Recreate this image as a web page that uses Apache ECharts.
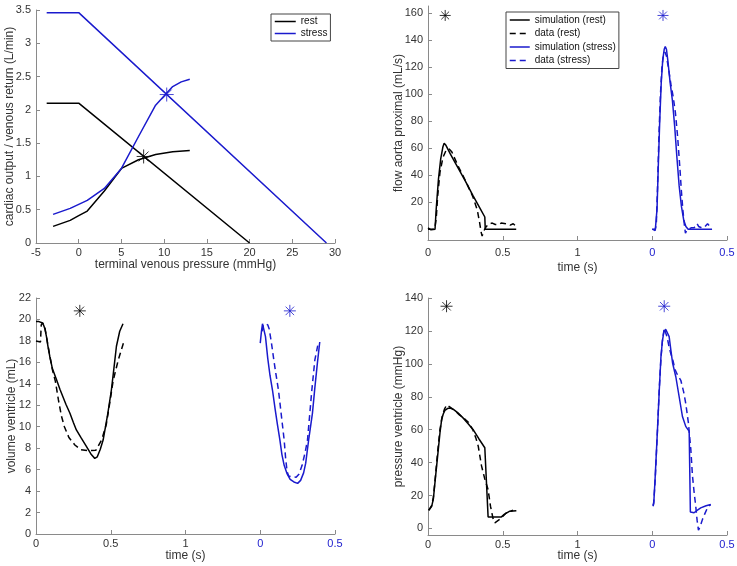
<!DOCTYPE html>
<html><head><meta charset="utf-8">
<script src="https://cdn.jsdelivr.net/npm/echarts@6/dist/echarts.min.js"></script>
<style>html,body{margin:0;padding:0;background:#fff}#c{width:737px;height:566px}</style>
</head><body><div id="c"></div>
<script>
// ---------- Panel 1: cardiac output / venous return ----------
const restVR = [[-3.75,2.1],[0,2.1],[20,0]];
const stressVR = [[-3.75,3.46],[0,3.46],[29,0]];
const restCO = [[-3,0.25],[-1,0.34],[0,0.41],[1,0.48],[3,0.78],[5,1.12],[7,1.25],[9,1.33],[11,1.37],[13,1.39]];
const stressCO = [[-3,0.43],[-1,0.52],[1,0.64],[3,0.82],[5,1.12],[7,1.6],[9,2.07],[11,2.35],[12,2.42],[13,2.46]];
const p1Stars = {rest:[7.6,1.3], stress:[10.3,2.23]};
const p1Ticks = {xmin:-5, xmax:30, xstep:5, ymin:0, ymax:3.5, ystep:0.5};

// ---------- Panel 2: flow aorta proximal ----------
const flowRestSim = [[0,1],[0.01,0.5],[0.02,-0.5],[0.03,0],[0.047,0],[0.055,15],[0.07,37],[0.085,52],[0.1,61],[0.108,63.5],[0.12,62],[0.15,55.5],[0.2,45.5],[0.25,35.5],[0.3,25],[0.35,15],[0.38,9],[0.383,0],[0.59,0]];
const flowRestData = [[0,0],[0.02,0],[0.045,0],[0.055,8],[0.065,25],[0.08,42],[0.1,53],[0.12,58],[0.14,59.5],[0.16,57],[0.18,52],[0.2,47],[0.25,36],[0.3,24],[0.33,14],[0.345,5],[0.355,-2],[0.362,-5],[0.375,-1],[0.39,2],[0.41,4],[0.43,4.5],[0.45,3.5],[0.47,3.5],[0.49,4.5],[0.52,4],[0.55,3],[0.57,4],[0.59,2]];
const flowStressSim = [[0,0],[0.01,-1],[0.02,-1],[0.026,0],[0.032,15],[0.04,45],[0.05,80],[0.06,108],[0.07,125],[0.08,133],[0.087,135],[0.095,133],[0.105,124],[0.12,108],[0.135,95],[0.15,76],[0.165,53],[0.18,32],[0.195,17],[0.21,7],[0.225,2],[0.24,0],[0.4,0]];
const flowStressData = [[0,0],[0.02,0],[0.027,3],[0.035,30],[0.045,70],[0.055,100],[0.065,120],[0.075,129],[0.085,131],[0.095,128],[0.11,118],[0.125,107],[0.14,98],[0.155,86],[0.17,68],[0.185,45],[0.195,28],[0.205,14],[0.215,3],[0.222,-3],[0.23,-1],[0.24,0],[0.26,1],[0.28,1],[0.3,4],[0.31,2],[0.33,1],[0.35,1.5],[0.37,4],[0.39,1.5]];
const p2Stars = {rest:[0.115,158], stress:[0.072,158]};
const p2YTicks = [0,20,40,60,80,100,120,140,160];

// ---------- Panel 3: volume ventricle ----------
const volRestSim = [[0,19.8],[0.02,19.8],[0.04,19.7],[0.05,19.5],[0.06,19.1],[0.07,18.4],[0.08,17.5],[0.093,16.5],[0.11,15.4],[0.138,14.35],[0.16,13.5],[0.18,12.8],[0.2,12.1],[0.227,11.25],[0.25,10.4],[0.27,9.7],[0.3,9.0],[0.338,8.14],[0.37,7.4],[0.393,7.05],[0.41,7.2],[0.43,7.9],[0.449,8.76],[0.48,11.2],[0.504,13.4],[0.52,15.3],[0.538,17.5],[0.56,18.9],[0.582,19.6]];
const volRestData = [[0,18],[0.03,17.9],[0.035,19.5],[0.045,19.7],[0.06,19.2],[0.07,18.4],[0.09,16.8],[0.11,15.3],[0.13,14.2],[0.15,12.5],[0.17,11],[0.19,10],[0.22,9],[0.26,8.3],[0.3,7.85],[0.35,7.76],[0.4,7.8],[0.44,8.8],[0.47,10.2],[0.5,12.8],[0.516,14.3],[0.55,16.2],[0.587,17.9]];
const volStressSim = [[0,17.8],[0.008,18.9],[0.015,19.6],[0.025,19.5],[0.035,18.4],[0.05,16.4],[0.065,14.8],[0.082,13.4],[0.1,11.6],[0.115,10.2],[0.131,8.8],[0.145,7.4],[0.16,6.4],[0.18,5.6],[0.2,5.1],[0.225,4.85],[0.25,4.72],[0.27,5],[0.29,5.7],[0.304,6.6],[0.325,8.9],[0.349,11.25],[0.365,13.6],[0.382,15.9],[0.398,17.9]];
const volStressData = [[0.012,18.9],[0.02,19.4],[0.035,19.6],[0.05,19.5],[0.06,19.1],[0.075,17.8],[0.09,16.3],[0.105,14.9],[0.122,13.4],[0.14,11.2],[0.16,8.76],[0.17,7],[0.18,5.8],[0.19,5.4],[0.21,5.35],[0.24,5.3],[0.26,5.6],[0.28,6.4],[0.3,7.6],[0.316,8.76],[0.33,11],[0.345,13.4],[0.365,16.2],[0.385,17.6]];
const p3Stars = {rest:[0.293,20.8], stress:[0.198,20.8]};

// ---------- Panel 4: pressure ventricle ----------
const presRestSim = [[0.005,11],[0.013,11.5],[0.025,13.5],[0.036,18],[0.05,31],[0.069,48],[0.08,58],[0.091,66],[0.102,69.5],[0.113,71.7],[0.13,72.8],[0.147,73.1],[0.17,72.3],[0.2,70.2],[0.236,67],[0.27,63.5],[0.302,60],[0.34,54.5],[0.38,49],[0.385,48.5],[0.402,7],[0.491,7],[0.51,8.5],[0.547,10.5],[0.591,10.8]];
const presRestData = [[0.005,11],[0.013,12],[0.025,14],[0.036,19],[0.05,32],[0.065,47],[0.08,60],[0.095,68],[0.11,72.5],[0.125,75],[0.136,76],[0.15,73.5],[0.18,71.5],[0.21,69],[0.24,67],[0.27,64.5],[0.3,60],[0.32,55],[0.336,50],[0.358,38],[0.38,30],[0.402,23.6],[0.418,13.5],[0.435,6],[0.447,3.4],[0.46,3.5],[0.48,5.5],[0.524,9.5],[0.569,11]];
const presStressSim = [[0.005,13.5],[0.01,15],[0.02,32],[0.036,62],[0.047,84],[0.058,104],[0.068,114],[0.078,119.5],[0.09,121],[0.1,120],[0.113,116.5],[0.125,108],[0.136,100.5],[0.158,92],[0.18,80],[0.202,68],[0.224,62],[0.247,59],[0.25,58.5],[0.255,10],[0.28,9.5],[0.3,11],[0.324,12.5],[0.36,13.8],[0.391,14.5]];
const presStressData = [[0.005,14],[0.01,16],[0.02,30],[0.035,60],[0.047,85],[0.058,103],[0.068,114],[0.08,121.6],[0.09,120.5],[0.1,116],[0.113,110],[0.125,106],[0.136,103],[0.153,96.4],[0.17,93],[0.191,90],[0.21,83],[0.224,76],[0.242,64],[0.258,48],[0.269,32],[0.28,22],[0.291,13.5],[0.3,5],[0.309,-1],[0.32,1],[0.336,5.5],[0.352,9],[0.369,12.5],[0.391,14.5]];
const p4Stars = {rest:[0.124,135], stress:[0.08,135]};
const p4YTicks = [0,20,40,60,80,100,120,140];

// time axis: rest cycle from 0, stress cycle drawn after an offset of 1.5
const STRESS_OFFSET = 1.5;
const timeTicks = [0,0.5,1,1.5,2];
const timeTickLabels = ['0','0.5','1','0','0.5'];

// ---------- styling ----------
const FONT = '"Liberation Sans", Arial, Helvetica, sans-serif';
const BLACK = '#000000';
const BLUE = '#1a1acd';
const AXIS = '#8a8a8a';
const TXT = '#333333';

const shift = (arr, d) => arr.map(p => [p[0] + d, p[1]]);

function axisBase(extra) {
  const a = {
    type: 'value',
    axisLine: {show: true, onZero: false, lineStyle: {color: AXIS, width: 1}},
    axisTick: {show: true, inside: true, length: 4, lineStyle: {color: AXIS}},
    splitLine: {show: false},
    axisLabel: {fontSize: 11, color: TXT, fontFamily: FONT, margin: 5},
    nameLocation: 'middle',
    nameMoveOverlap: false,
    nameTextStyle: {fontSize: 12, color: TXT, fontFamily: FONT},
  };
  for (const k in extra) {
    if (typeof extra[k] === 'object' && !Array.isArray(extra[k]) && a[k]) Object.assign(a[k], extra[k]);
    else a[k] = extra[k];
  }
  return a;
}

function timeAxis(gridIndex, margin, gap) {
  return axisBase({
    gridIndex, min: 0, max: 2, name: 'time (s)', nameGap: gap,
    axisTick: {customValues: timeTicks},
    axisLabel: {
      margin,
      customValues: timeTicks,
      formatter: v => timeTickLabels[timeTicks.indexOf(Number(v))] ?? String(v),
      color: v => Number(v) >= STRESS_OFFSET ? BLUE : TXT
    }
  });
}

function line(name, data, color, dashed, xi) {
  return {
    type: 'line', name, data, xAxisIndex: xi, yAxisIndex: xi,
    symbol: 'none', showSymbol: false, smooth: false, silent: true,
    lineStyle: {color, width: 1.5, type: dashed ? [6, 4] : 'solid'},
    itemStyle: {color},
    emphasis: {disabled: true}, z: 3
  };
}

const ASTER = 'path://M0,-10L0,10M-10,0L10,0M-7.07,-7.07L7.07,7.07M-7.07,7.07L7.07,-7.07';
function star(name, pt, color, xi, size) {
  return {
    type: 'scatter', name, data: [pt], xAxisIndex: xi, yAxisIndex: xi,
    symbol: ASTER, symbolSize: size, silent: true,
    itemStyle: {color: 'rgba(0,0,0,0)', borderColor: color, borderWidth: 1},
    emphasis: {disabled: true}, z: 5
  };
}

const legendCommon = {
  orient: 'vertical', padding: [2, 3],
  borderColor: '#444', borderWidth: 1, backgroundColor: '#fff', selectedMode: false,
  itemStyle: {opacity: 0, borderWidth: 0},
  lineStyle: {width: 1.5}
};

const option = {
  animation: false,
  backgroundColor: '#ffffff',
  textStyle: {fontFamily: FONT},
  grid: [
    {left: 36, right: 402, top: 10, bottom: 323, containLabel: false, outerBoundsMode: 'none'},
    {left: 428, right: 10, top: 6, bottom: 326, containLabel: false, outerBoundsMode: 'none'},
    {left: 36, right: 402, top: 298, bottom: 32, containLabel: false, outerBoundsMode: 'none'},
    {left: 428, right: 10, top: 298, bottom: 31, containLabel: false, outerBoundsMode: 'none'}
  ],
  xAxis: [
    axisBase({gridIndex: 0, min: p1Ticks.xmin, max: p1Ticks.xmax, interval: p1Ticks.xstep,
      name: 'terminal venous pressure (mmHg)', nameGap: 16, axisLabel: {margin: 4}}),
    timeAxis(1, 7, 22),
    timeAxis(2, 4, 16),
    timeAxis(3, 4, 15)
  ],
  yAxis: [
    axisBase({gridIndex: 0, min: p1Ticks.ymin, max: p1Ticks.ymax, interval: p1Ticks.ystep,
      name: 'cardiac output / venous return (L/min)', nameGap: 20}),
    axisBase({gridIndex: 1, min: -8, max: 165, name: 'flow aorta proximal (mL/s)', nameGap: 23,
      axisLabel: {customValues: p2YTicks}, axisTick: {customValues: p2YTicks}}),
    axisBase({gridIndex: 2, min: 0, max: 22, interval: 2, name: 'volume ventricle (mL)', nameGap: 18}),
    axisBase({gridIndex: 3, min: -4, max: 140, name: 'pressure ventricle (mmHg)', nameGap: 23,
      axisLabel: {customValues: p4YTicks}, axisTick: {customValues: p4YTicks}})
  ],
  legend: [
    Object.assign({}, legendCommon, {
      data: ['rest', 'stress'], left: 271, top: 14,
      itemWidth: 21, itemHeight: 8, itemGap: 1,
      textStyle: {fontSize: 10, color: '#111', fontFamily: FONT, lineHeight: 11}}),
    Object.assign({}, legendCommon, {
      data: ['simulation (rest)', 'data (rest)', 'simulation (stress)', 'data (stress)'],
      left: 506, top: 12,
      itemWidth: 20, itemHeight: 10, itemGap: 1.5,
      textStyle: {fontSize: 10, color: '#111', fontFamily: FONT, lineHeight: 12}})
  ],
  series: [
    // panel 1
    line('rest', restVR, BLACK, false, 0),
    line('rest CO', restCO, BLACK, false, 0),
    line('stress', stressVR, BLUE, false, 0),
    line('stress CO', stressCO, BLUE, false, 0),
    star('star1r', p1Stars.rest, BLACK, 0, 14),
    star('star1s', p1Stars.stress, BLUE, 0, 14),
    // panel 2
    line('simulation (rest)', flowRestSim, BLACK, false, 1),
    line('data (rest)', flowRestData, BLACK, true, 1),
    line('simulation (stress)', shift(flowStressSim, STRESS_OFFSET), BLUE, false, 1),
    line('data (stress)', shift(flowStressData, STRESS_OFFSET), BLUE, true, 1),
    star('star2r', p2Stars.rest, BLACK, 1, 11),
    star('star2s', [p2Stars.stress[0] + STRESS_OFFSET, p2Stars.stress[1]], BLUE, 1, 11),
    // panel 3
    line('vol sim rest', volRestSim, BLACK, false, 2),
    line('vol data rest', volRestData, BLACK, true, 2),
    line('vol sim stress', shift(volStressSim, STRESS_OFFSET), BLUE, false, 2),
    line('vol data stress', shift(volStressData, STRESS_OFFSET), BLUE, true, 2),
    star('star3r', p3Stars.rest, BLACK, 2, 12),
    star('star3s', [p3Stars.stress[0] + STRESS_OFFSET, p3Stars.stress[1]], BLUE, 2, 12),
    // panel 4
    line('pres sim rest', presRestSim, BLACK, false, 3),
    line('pres data rest', presRestData, BLACK, true, 3),
    line('pres sim stress', shift(presStressSim, STRESS_OFFSET), BLUE, false, 3),
    line('pres data stress', shift(presStressData, STRESS_OFFSET), BLUE, true, 3),
    star('star4r', p4Stars.rest, BLACK, 3, 12),
    star('star4s', [p4Stars.stress[0] + STRESS_OFFSET, p4Stars.stress[1]], BLUE, 3, 12)
  ]
};

const chart = echarts.init(document.getElementById('c'), null, {renderer: 'canvas'});
chart.setOption(option);
</script></body></html>
